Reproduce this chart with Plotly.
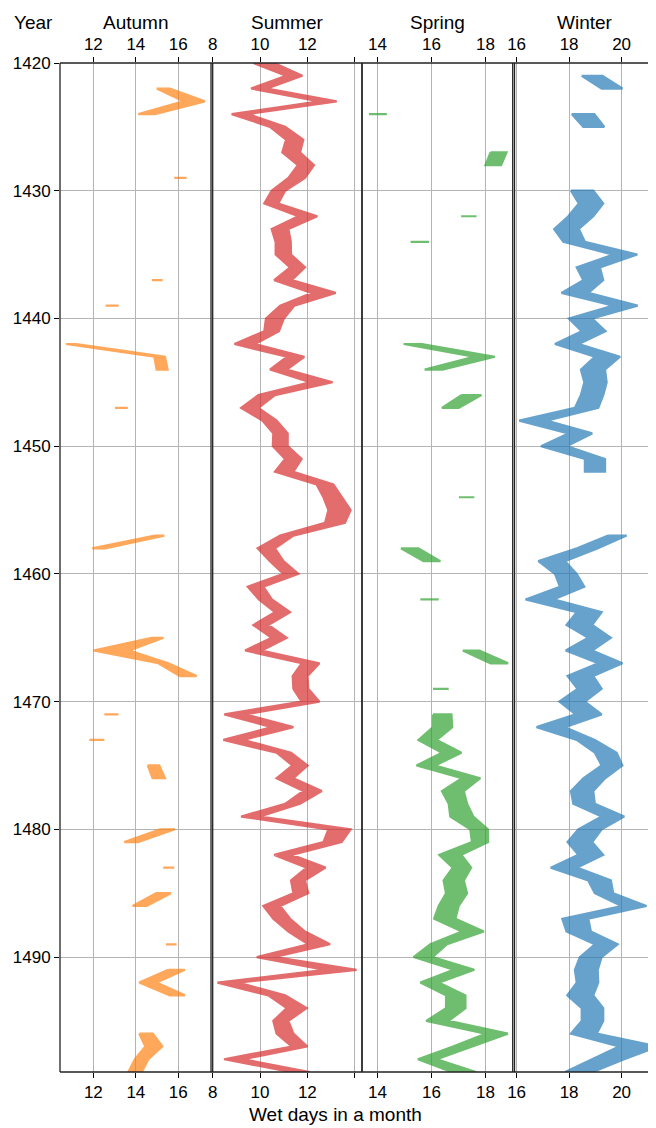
import plotly.graph_objects as go

# ---------------- data (wet days in a month, min/max per year) ----------------
autumn_years = [1422, 1423, 1424, 1429, 1437, 1439, 1442, 1443, 1444, 1447, 1457, 1458,
                1465, 1466, 1467, 1468, 1471, 1473, 1475, 1476, 1480, 1481, 1483, 1485,
                1486, 1489, 1491, 1492, 1493, 1496, 1497, 1498, 1499]
autumn_lo = [14.98, 16.24, 14.12, 15.81, 14.76, 12.58, 10.71, 14.87, 14.98, 13.02, 14.9, 11.95,
             14.75, 12.0, 15.06, 16.08, 12.52, 11.81, 14.56, 14.79, 15.15, 13.46, 15.29, 14.95,
             13.85, 15.42, 15.53, 14.16, 15.6, 14.16, 14.45, 13.96, 13.65]
autumn_hi = [15.6, 17.25, 14.9, 16.39, 15.26, 13.19, 11.2, 15.37, 15.5, 13.62, 15.34, 12.55,
             15.3, 13.7, 15.53, 16.86, 13.18, 12.52, 15.1, 15.37, 15.84, 14.1, 15.81, 15.65,
             14.51, 15.92, 16.31, 14.98, 16.31, 14.8, 15.25, 14.59, 14.28]

summer_years = [1420, 1421, 1422, 1423, 1424, 1425, 1426, 1427, 1428, 1429,
                1430, 1431, 1432, 1433, 1434, 1435, 1436, 1437, 1438, 1439,
                1440, 1441, 1442, 1443, 1444, 1445, 1446, 1447, 1448, 1449,
                1450, 1451, 1452, 1453, 1454, 1455, 1456, 1457, 1458, 1459,
                1460, 1461, 1462, 1463, 1464, 1465, 1466, 1467, 1468, 1469,
                1470, 1471, 1472, 1473, 1474, 1475, 1476, 1477, 1478, 1479,
                1480, 1481, 1482, 1483, 1484, 1485, 1486, 1487, 1488, 1489,
                1490, 1491, 1492, 1493, 1494, 1495, 1496, 1497, 1498, 1499]
summer_lo = [9.72, 11.1, 9.62, 12.5, 8.8, 10.42, 11.1, 10.94, 11.6, 11.2,
             10.49, 10.18, 11.62, 10.49, 10.66, 10.66, 11.27, 10.6, 12.18, 10.85,
             10.25, 10.18, 8.92, 11.13, 10.42, 12.11, 9.93, 9.2, 10.1, 10.56,
             10.54, 11.06, 10.63, 12.39, 12.68, 12.89, 12.75, 10.85, 9.9, 10.42,
             10.99, 9.48, 9.95, 10.63, 9.72, 10.49, 9.37, 11.76, 11.38, 11.41,
             11.76, 8.49, 10.49, 8.45, 10.7, 11.37, 10.7, 11.83, 11.06, 9.2,
             12.89, 12.68, 10.6, 11.97, 11.31, 11.41, 10.14, 10.56, 11.2, 12.04,
             9.86, 12.75, 8.2, 10.35, 11.13, 10.56, 10.7, 11.34, 8.48, 11.3]
summer_hi = [10.6, 11.79, 10.3, 13.24, 9.5, 11.06, 11.83, 11.69, 12.28, 11.9,
             11.06, 10.77, 12.42, 11.2, 11.3, 11.31, 11.9, 11.34, 13.2, 11.45,
             11.01, 10.8, 9.79, 11.87, 11.13, 13.07, 10.63, 9.93, 10.7, 11.17,
             11.17, 11.76, 11.41, 13.1, 13.45, 13.83, 13.59, 11.41, 10.63, 10.99,
             11.62, 10.14, 10.5, 11.27, 10.35, 11.13, 10.07, 12.51, 12.01, 12.04,
             12.51, 9.37, 11.41, 9.3, 11.31, 12.01, 11.41, 12.61, 11.69, 10.0,
             13.83, 13.45, 11.34, 12.77, 11.9, 12.04, 10.85, 11.27, 11.9, 12.96,
             10.63, 14.08, 9.08, 11.06, 11.97, 11.2, 11.41, 12.0, 9.3, 12.1]

spring_years = [1424, 1427, 1428, 1432, 1434, 1442, 1443, 1444, 1446, 1447, 1454, 1458,
                1459, 1462, 1466, 1467, 1469,
                1471, 1472, 1473, 1474, 1475, 1476, 1477, 1478, 1479,
                1480, 1481, 1482, 1483, 1484, 1485, 1486, 1487, 1488, 1489,
                1490, 1491, 1492, 1493, 1494, 1495, 1496, 1497, 1498, 1499]
spring_lo = [13.69, 18.19, 18.0, 17.1, 15.23, 14.97, 17.57, 15.75, 17.11, 16.39, 17.02, 14.87,
             15.71, 15.59, 17.16, 18.19, 16.06,
             16.06, 16.06, 15.52, 16.39, 15.45, 17.13, 16.39, 16.64, 16.7,
             17.44, 17.5, 16.29, 16.79, 16.45, 16.54, 16.27, 16.1, 17.13, 15.96,
             15.34, 16.82, 15.59, 16.54, 16.54, 15.81, 18.0, 16.8, 15.5, 16.75]
spring_hi = [14.35, 18.78, 18.58, 17.67, 15.91, 15.65, 18.35, 16.41, 17.85, 17.01, 17.59, 15.52,
             16.33, 16.27, 17.78, 18.84, 16.64,
             16.74, 16.77, 16.2, 17.11, 16.14, 17.81, 17.2, 17.32, 17.55,
             18.09, 18.1, 17.11, 17.47, 17.2, 17.32, 17.01, 16.89, 17.94, 16.58,
             16.04, 17.59, 16.27, 17.26, 17.26, 16.64, 18.83, 17.55, 16.2, 17.65]

winter_years = [1421, 1422, 1424, 1425,
                1430, 1431, 1432, 1433, 1434, 1435, 1436, 1437, 1438, 1439,
                1440, 1441, 1442, 1443, 1444, 1445, 1446, 1447, 1448, 1449,
                1450, 1451, 1452,
                1457, 1458, 1459,
                1460, 1461, 1462, 1463, 1464, 1465, 1466, 1467, 1468, 1469,
                1470, 1471, 1472, 1473, 1474, 1475, 1476, 1477, 1478, 1479,
                1480, 1481, 1482, 1483, 1484, 1485, 1486, 1487, 1488, 1489,
                1490, 1491, 1492, 1493, 1494, 1495, 1496, 1497, 1498, 1499]
winter_lo = [18.48, 19.24, 18.1, 18.54,
             18.07, 18.37, 17.97, 17.43, 17.78, 19.68, 18.29, 18.54, 17.71, 19.68,
             17.99, 18.48, 17.46, 18.98, 18.45, 18.58, 18.45, 18.22, 16.1, 17.97,
             16.93, 18.6, 18.6,
             19.49, 18.3, 16.83,
             17.46, 17.65, 16.34, 18.29, 17.9, 18.73, 17.87, 19.11, 17.94, 18.32,
             17.63, 18.25, 16.76, 18.29, 18.98, 19.24, 18.54, 18.07, 18.16, 19.24,
             18.35, 17.94, 18.35, 17.3, 18.73, 18.98, 20.0, 17.74, 17.9, 18.98,
             18.41, 18.22, 18.29, 17.93, 18.48, 18.48, 18.07, 19.9, 18.9, 17.85]
winter_hi = [19.27, 20.03, 18.96, 19.34,
             18.92, 19.3, 18.92, 18.37, 18.6, 20.6, 19.17, 19.3, 18.73, 20.61,
             18.88, 19.39, 18.37, 19.94, 19.37, 19.43, 19.3, 19.11, 17.14, 18.88,
             17.9, 19.37, 19.37,
             20.19, 19.1, 17.84,
             18.29, 18.58, 17.4, 19.24, 18.88, 19.59, 18.88, 20.03, 18.92, 19.24,
             18.6, 19.24, 17.84, 18.98, 19.81, 20.03, 19.37, 18.92, 18.98, 20.1,
             19.24, 18.88, 19.3, 18.29, 19.59, 19.68, 20.95, 18.73, 18.83, 19.85,
             19.24, 19.09, 19.11, 18.92, 19.3, 19.3, 19.05, 21.4, 20.1, 18.9]

season_names = ["Autumn", "Summer", "Spring", "Winter"]
autumn_ticks = [12, 14, 16]
summer_ticks = [8, 10, 12, 14]
summer_ticktext = ["8", "10", "12", ""]
spring_ticks = [14, 16, 18]
winter_ticks = [16, 18, 20]
year_ticks = [1420, 1430, 1440, 1450, 1460, 1470, 1480, 1490]

# ---------------- styling ----------------
FONT = "Liberation Sans, Arial, Helvetica, sans-serif"
colors = ["#ff7f0e", "#d62728", "#2ca02c", "#1f77b4"]
domains = [[0.0, 0.2534], [0.2562, 0.5067], [0.5067, 0.7596], [0.7626, 1.0]]
ranges = [[10.43, 17.54], [7.999, 14.31], [13.43, 19.01], [15.92, 21.31]]
GRID = "#b4b4b4"
TICK_SIZE = 17
TITLE_SIZE = 19

panels = [
    (autumn_years, autumn_lo, autumn_hi, autumn_ticks, [str(t) for t in autumn_ticks]),
    (summer_years, summer_lo, summer_hi, summer_ticks, summer_ticktext),
    (spring_years, spring_lo, spring_hi, spring_ticks, [str(t) for t in spring_ticks]),
    (winter_years, winter_lo, winter_hi, winter_ticks, [str(t) for t in winter_ticks]),
]


def band_polygons(years, lo, hi):
    """Closed polygons (one per run of consecutive years), separated by None."""
    runs, cur = [], [0]
    for i in range(1, len(years)):
        if years[i] == years[i - 1] + 1:
            cur.append(i)
        else:
            runs.append(cur)
            cur = [i]
    runs.append(cur)
    xs, ys = [], []
    for r in runs:
        xs += [lo[i] for i in r] + [hi[i] for i in reversed(r)] + [lo[r[0]], None]
        ys += [years[i] for i in r] + [years[i] for i in reversed(r)] + [years[r[0]], None]
    return xs, ys


fig = go.Figure()
layout = {}
shapes = []
annotations = []

for k, (yrs, lo, hi, tv, tt) in enumerate(panels):
    n = k + 1
    xname = "x" if n == 1 else f"x{n}"
    topname = f"x{n + 4}"
    xs, ys = band_polygons(yrs, lo, hi)
    fig.add_trace(go.Scatter(
        x=xs, y=ys, mode="lines", fill="toself", fillcolor=colors[k],
        line=dict(color=colors[k], width=2.2), opacity=0.68,
        xaxis=xname, yaxis="y", hoverinfo="skip", showlegend=False))
    # invisible trace so the mirrored top axis is rendered
    fig.add_trace(go.Scatter(
        x=[ranges[k][0]], y=[year_ticks[0]], mode="markers", marker=dict(opacity=0),
        xaxis=topname, yaxis="y", hoverinfo="skip", showlegend=False))

    common = dict(range=ranges[k], tickvals=tv, ticktext=tt, ticks="outside", ticklen=5,
                  tickwidth=1, tickcolor="black", zeroline=False, showline=False,
                  tickfont=dict(family=FONT, size=TICK_SIZE, color="black"), fixedrange=True)
    layout["xaxis" if n == 1 else f"xaxis{n}"] = dict(
        domain=domains[k], anchor="y", side="bottom", showgrid=True,
        gridcolor=GRID, gridwidth=1, **common)
    layout[f"xaxis{n + 4}"] = dict(
        overlaying=xname, anchor="y", side="top", showgrid=False, **common)

    annotations.append(dict(
        text=season_names[k], x=(domains[k][0] + domains[k][1]) / 2, y=1.0406,
        xref="paper", yref="paper", xanchor="center", yanchor="middle", showarrow=False,
        font=dict(family=FONT, size=TITLE_SIZE, color="black")))

    # panel borders
    for xb in domains[k]:
        if xb < 0.999:
            shapes.append(dict(type="line", xref="paper", yref="paper", x0=xb, x1=xb,
                               y0=0, y1=1, line=dict(color="#222222", width=1.3),
                               layer="above"))

for yb in (0, 1):
    shapes.append(dict(type="line", xref="paper", yref="paper", x0=0, x1=1, y0=yb, y1=yb,
                       line=dict(color="#222222", width=1.3), layer="above"))

annotations.append(dict(text="Year", x=-0.0453, y=1.0406, xref="paper", yref="paper",
                        xanchor="center", yanchor="middle", showarrow=False,
                        font=dict(family=FONT, size=TITLE_SIZE, color="black")))
annotations.append(dict(text="Wet days in a month", x=0.463, y=-0.0426, xref="paper",
                        yref="paper", xanchor="center", yanchor="middle", showarrow=False,
                        font=dict(family=FONT, size=TITLE_SIZE, color="black")))

# the page body adds an 8px margin, so the figure is 8px smaller than the window
fig.update_layout(
    width=648, height=1120,
    margin=dict(l=52, r=0, t=55, b=56, pad=0),
    paper_bgcolor="white", plot_bgcolor="white",
    showlegend=False,
    yaxis=dict(range=[1499, 1420], tickvals=year_ticks, ticks="outside", ticklen=5,
               tickcolor="black", showgrid=True, gridcolor=GRID, gridwidth=1,
               zeroline=False, showline=False, anchor="x", fixedrange=True,
               tickfont=dict(family=FONT, size=TICK_SIZE, color="black")),
    shapes=shapes, annotations=annotations,
    **layout,
)

fig.write_html("out.html", config={"displayModeBar": False})
